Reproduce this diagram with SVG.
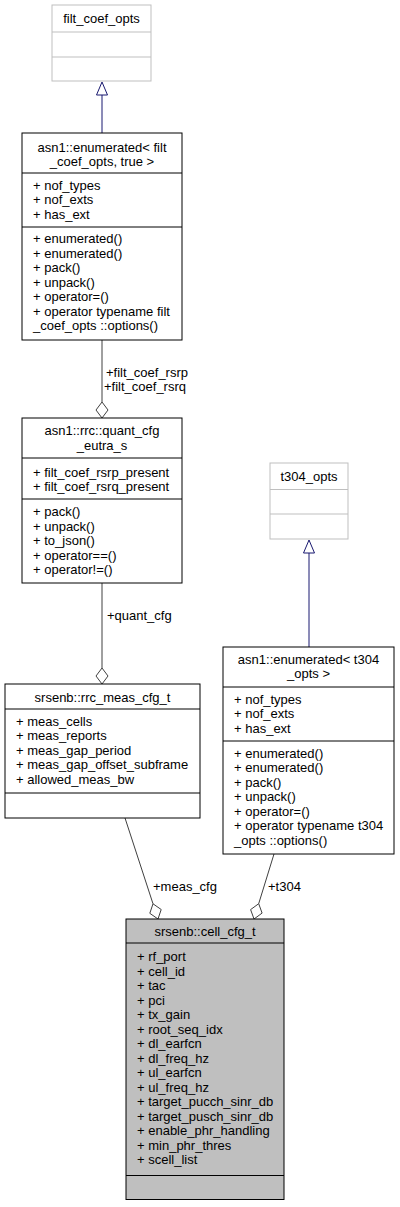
<svg xmlns="http://www.w3.org/2000/svg" width="400" height="1207" viewBox="0 0 400 1207">
<style>
text{font-family:"Liberation Sans",Arial,Helvetica,sans-serif;font-size:13px;fill:#000}
.c{text-anchor:middle}
.box{fill:#fff;stroke:#000;stroke-width:1}
.gbox{fill:#fff;stroke:#bfbfbf;stroke-width:1}
.sel{fill:#bfbfbf;stroke:#000;stroke-width:1}
.sep{stroke:#000;stroke-width:1}
.gsep{stroke:#bfbfbf;stroke-width:1}
.inh{stroke:#191970;stroke-width:1;fill:none}
.tri{fill:#fff;stroke:#191970;stroke-width:1}
.agg{stroke:#404040;stroke-width:1;fill:none}
.dia{fill:#fff;stroke:#404040;stroke-width:1}
</style>
<rect width="400" height="1207" fill="#fff"/>
<g id="connectors">
<line class="inh" x1="102" y1="133" x2="102" y2="95"/>
<polygon class="tri" points="102,82 107.5,95 96.5,95"/>
<line class="inh" x1="309" y1="647" x2="309" y2="553"/>
<polygon class="tri" points="309,540 314.5,553 303.5,553"/>
<line class="agg" x1="102" y1="340" x2="102" y2="402"/>
<polygon class="dia" points="102,402 108,410 102,418 96,410"/>
<text x="106" y="376.5">+filt_coef_rsrp</text>
<text x="104" y="391">+filt_coef_rsrq</text>
<line class="agg" x1="102" y1="583" x2="102" y2="668"/>
<polygon class="dia" points="102,668 108,676 102,684 96,676"/>
<text x="107" y="619.5">+quant_cfg</text>
<line class="agg" x1="125" y1="818" x2="153" y2="903.8"/>
<polygon class="dia" points="153,903.8 161.2,909.5 158,919 149.8,913.3"/>
<text x="153" y="890.5">+meas_cfg</text>
<line class="agg" x1="274" y1="854" x2="258.7" y2="903.7"/>
<polygon class="dia" points="258.7,903.7 262.1,913.1 254,919 250.6,909.6"/>
<text x="268" y="890.5">+t304</text>
</g>
<g id="filt_coef_opts">
<rect class="gbox" x="52" y="5" width="99" height="76"/>
<line class="gsep" x1="52" y1="32" x2="151" y2="32"/>
<line class="gsep" x1="52" y1="57" x2="151" y2="57"/>
<text class="c" x="101.5" y="23">filt_coef_opts</text>
</g>
<g id="enumerated_filt">
<rect class="box" x="22" y="133" width="160" height="207"/>
<line class="sep" x1="22" y1="173" x2="182" y2="173"/>
<line class="sep" x1="22" y1="227" x2="182" y2="227"/>
<text class="c" x="102" y="151.5">asn1::enumerated&lt; filt</text>
<text class="c" x="102" y="166">_coef_opts, true &gt;</text>
<text x="33" y="189.5">+ nof_types</text>
<text x="33" y="204">+ nof_exts</text>
<text x="33" y="218.5">+ has_ext</text>
<text x="33" y="243">+ enumerated()</text>
<text x="33" y="257.5">+ enumerated()</text>
<text x="33" y="272">+ pack()</text>
<text x="33" y="286.5">+ unpack()</text>
<text x="33" y="301">+ operator=()</text>
<text x="33" y="315.5">+ operator typename filt</text>
<text x="33" y="330">_coef_opts ::options()</text>
</g>
<g id="quant_cfg_eutra">
<rect class="box" x="22" y="418" width="160" height="165"/>
<line class="sep" x1="22" y1="458" x2="182" y2="458"/>
<line class="sep" x1="22" y1="499" x2="182" y2="499"/>
<text class="c" x="102" y="434.5">asn1::rrc::quant_cfg</text>
<text class="c" x="102" y="449.5">_eutra_s</text>
<text x="33" y="476.5">+ filt_coef_rsrp_present</text>
<text x="33" y="491">+ filt_coef_rsrq_present</text>
<text x="33" y="516">+ pack()</text>
<text x="33" y="530.5">+ unpack()</text>
<text x="33" y="545">+ to_json()</text>
<text x="33" y="559.5">+ operator==()</text>
<text x="33" y="574">+ operator!=()</text>
</g>
<g id="t304_opts">
<rect class="gbox" x="270" y="463" width="78" height="76"/>
<line class="gsep" x1="270" y1="489.5" x2="348" y2="489.5"/>
<line class="gsep" x1="270" y1="514" x2="348" y2="514"/>
<text class="c" x="309" y="480.5">t304_opts</text>
</g>
<g id="enumerated_t304">
<rect class="box" x="223" y="647" width="171" height="207"/>
<line class="sep" x1="223" y1="687" x2="394" y2="687"/>
<line class="sep" x1="223" y1="741" x2="394" y2="741"/>
<text class="c" x="308.5" y="664">asn1::enumerated&lt; t304</text>
<text class="c" x="308.5" y="678">_opts &gt;</text>
<text x="234" y="703.5">+ nof_types</text>
<text x="234" y="718">+ nof_exts</text>
<text x="234" y="732.5">+ has_ext</text>
<text x="234" y="757.5">+ enumerated()</text>
<text x="234" y="772">+ enumerated()</text>
<text x="234" y="786.5">+ pack()</text>
<text x="234" y="801">+ unpack()</text>
<text x="234" y="815.5">+ operator=()</text>
<text x="234" y="830">+ operator typename t304</text>
<text x="234" y="844.5">_opts ::options()</text>
</g>
<g id="rrc_meas_cfg_t">
<rect class="box" x="5" y="684" width="195" height="134"/>
<line class="sep" x1="5" y1="709" x2="200" y2="709"/>
<line class="sep" x1="5" y1="793" x2="200" y2="793"/>
<text class="c" x="102.5" y="701.5">srsenb::rrc_meas_cfg_t</text>
<text x="16" y="725.5">+ meas_cells</text>
<text x="16" y="740">+ meas_reports</text>
<text x="16" y="754.5">+ meas_gap_period</text>
<text x="16" y="769">+ meas_gap_offset_subframe</text>
<text x="16" y="783.5">+ allowed_meas_bw</text>
</g>
<g id="cell_cfg_t">
<rect class="sel" x="126" y="919" width="158" height="280.5"/>
<line class="sep" x1="126" y1="943" x2="284" y2="943"/>
<line class="sep" x1="126" y1="1175.5" x2="284" y2="1175.5"/>
<text class="c" x="205" y="936">srsenb::cell_cfg_t</text>
<text x="137" y="961">+ rf_port</text>
<text x="137" y="975.5">+ cell_id</text>
<text x="137" y="990">+ tac</text>
<text x="137" y="1004.6">+ pci</text>
<text x="137" y="1019.1">+ tx_gain</text>
<text x="137" y="1033.6">+ root_seq_idx</text>
<text x="137" y="1048.1">+ dl_earfcn</text>
<text x="137" y="1062.6">+ dl_freq_hz</text>
<text x="137" y="1077.2">+ ul_earfcn</text>
<text x="137" y="1091.7">+ ul_freq_hz</text>
<text x="137" y="1106.2">+ target_pucch_sinr_db</text>
<text x="137" y="1120.7">+ target_pusch_sinr_db</text>
<text x="137" y="1135.2">+ enable_phr_handling</text>
<text x="137" y="1149.8">+ min_phr_thres</text>
<text x="137" y="1164.3">+ scell_list</text>
</g>
</svg>
